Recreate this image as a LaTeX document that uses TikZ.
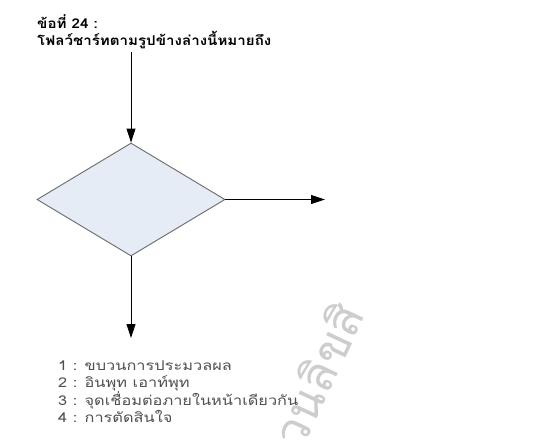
\documentclass[tikz,border=0pt]{standalone}
\usepackage{fontspec}
\newfontfamily\thaifont[Script=Thai,FakeStretch=1.21]{Loma}
\newfontfamily\thaititle[Script=Thai,FakeStretch=1.12]{Loma}
\newfontfamily\thaiwm[Script=Thai]{Loma}
\usetikzlibrary{arrows.meta,shapes.geometric}
\definecolor{dfill}{HTML}{E6ECF6}
\definecolor{dline}{HTML}{6A6A6A}
\definecolor{listc}{HTML}{505050}
\definecolor{wmark}{HTML}{CDCDCD}
\tikzset{
  conn/.style={draw=black, line width=0.9pt, -{Triangle[width=9pt,length=14pt]}},
  decision/.style={diamond, draw=dline, fill=dfill, line width=0.9pt, minimum width=188pt, minimum height=113pt, inner sep=0pt},
  title/.style={anchor=base west, inner sep=0pt, font=\thaititle\bfseries\fontsize{13.5}{15}\selectfont},
  item/.style={anchor=base west, inner sep=0pt, text=listc, font=\thaifont\fontsize{13.5}{15}\selectfont},
  wm/.style={text=wmark, inner sep=0pt, rotate=65, font=\thaiwm\fontsize{48}{48}\selectfont}
}
\begin{document}
\begin{tikzpicture}[x=1pt,y=-1pt]
\useasboundingbox[fill=white] (0,0) rectangle (537,445);
\node[wm] (wmk) at (317,374) {วนลิขสิ};
\node[title] (t1) at (37,28) {ข้อที่ 24 :};
\node[title] (t2) at (37,45) {โฟลว์ชาร์ทตามรูปข้างล่างนี้หมายถึง};
\coordinate (start) at (131,52);
\node[decision] (d) at (131,199.5) {};
\coordinate (rend) at (325,199.5);
\coordinate (bend) at (131,338);
\draw[conn] (start) -- (d.north);
\draw[conn] (d.east) -- (rend);
\draw[conn] (d.south) -- (bend);
\node[item] (i1) at (58,370) {1 : ขบวนการประมวลผล};
\node[item] (i2) at (58,387.5) {2 : อินพุท เอาท์พุท};
\node[item] (i3) at (58,405) {3 : จุดเชื่อมต่อภายในหน้าเดียวกัน};
\node[item] (i4) at (58,422.5) {4 : การตัดสินใจ};
\end{tikzpicture}
\end{document}
